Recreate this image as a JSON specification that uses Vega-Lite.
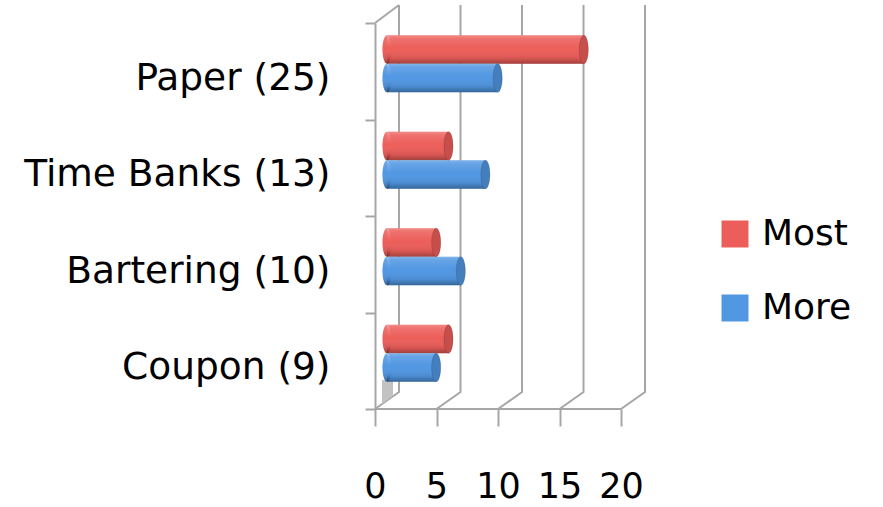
{
  "$schema": "https://vega.github.io/schema/vega-lite/v6.json",
  "width": 270,
  "height": 404,
  "autosize": "none",
  "padding": {"left": 375, "top": 5, "right": 238, "bottom": 98},
  "background": "white",
  "config": {"view": {"stroke": null}, "font": "DejaVu Sans"},
  "datasets": {
    "responses": [
      {"option": "Paper (25)", "series": "Most", "count": 16},
      {"option": "Paper (25)", "series": "More", "count": 9},
      {"option": "Time Banks (13)", "series": "Most", "count": 5},
      {"option": "Time Banks (13)", "series": "More", "count": 8},
      {"option": "Bartering (10)", "series": "Most", "count": 4},
      {"option": "Bartering (10)", "series": "More", "count": 6},
      {"option": "Coupon (9)", "series": "Most", "count": 5},
      {"option": "Coupon (9)", "series": "More", "count": 4}
    ],
    "gridSteps": [{"v": 0}, {"v": 5}, {"v": 10}, {"v": 15}, {"v": 20}]
  },
  "layer": [
    {
      "data": {"name": "gridSteps"},
      "mark": {"type": "point", "shape": "M0,0L24,-17L24,-404", "size": 4, "filled": false, "stroke": "#a6a6a6", "strokeWidth": 2, "opacity": 1},
      "encoding": {
        "x": {
          "field": "v", "type": "quantitative",
          "scale": {"domain": [0, 21.95], "nice": false, "zero": true},
          "axis": {
            "title": null, "values": [0, 5, 10, 15, 20], "grid": false, "domain": false,
            "tickColor": "#a6a6a6", "tickWidth": 2, "tickSize": 17,
            "labelFont": "DejaVu Sans", "labelFontSize": 35, "labelColor": "#000",
            "labelBaseline": "alphabetic", "labelPadding": 71, "labelFlush": false, "labelOverlap": false
          }
        },
        "y": {"value": "height"}
      }
    },
    {
      "data": {"name": "gridSteps"},
      "transform": [{"filter": "datum.v == 0"}],
      "mark": {"type": "point", "shape": "M7,-29H18V-13L7,-5Z", "size": 4, "filled": true, "fill": "#c2c2c2", "strokeWidth": 0, "opacity": 1},
      "encoding": {"x": {"field": "v", "type": "quantitative"}, "y": {"value": "height"}}
    },
    {
      "data": {"name": "gridSteps"},
      "transform": [{"filter": "datum.v == 0"}],
      "mark": {"type": "point", "shape": "M0,-386L24,-404", "size": 4, "filled": false, "stroke": "#a6a6a6", "strokeWidth": 2, "opacity": 1},
      "encoding": {"x": {"field": "v", "type": "quantitative"}, "y": {"value": "height"}}
    },
    {
      "data": {"name": "gridSteps"},
      "transform": [{"filter": "datum.v == 0"}],
      "mark": {"type": "rule", "stroke": "#a6a6a6", "strokeWidth": 2},
      "encoding": {"x": {"field": "v", "type": "quantitative"}, "x2": {"datum": 20}, "y": {"value": "height"}}
    },
    {
      "data": {"name": "responses"},
      "mark": {"type": "bar", "xOffset": 12, "x2Offset": 12},
      "encoding": {
        "y": {
          "field": "option", "type": "nominal",
          "sort": ["Paper (25)", "Time Banks (13)", "Bartering (10)", "Coupon (9)"],
          "scale": {"range": [18, 404], "paddingInner": 0, "paddingOuter": 0},
          "axis": {
            "title": null, "domainColor": "#a6a6a6", "domainWidth": 2,
            "tickColor": "#a6a6a6", "tickWidth": 2, "tickSize": 10, "tickBand": "extent",
            "labelFont": "DejaVu Sans", "labelFontSize": 37.5, "labelColor": "#000",
            "labelPadding": 35, "labelBaseline": "alphabetic", "labelOffset": 18, "labelLimit": 0
          }
        },
        "yOffset": {
          "field": "series", "type": "nominal", "sort": ["Most", "More"],
          "scale": {"range": [12.25, 69.25], "paddingInner": 0, "paddingOuter": 0}
        },
        "x": {"field": "count", "type": "quantitative"},
        "x2": {"datum": 0},
        "color": {
          "field": "series", "type": "nominal", "sort": ["Most", "More"],
          "scale": {"domain": ["Most", "More"], "range": ["#EC5E5A", "#5197E2"]},
          "legend": {
            "title": null, "orient": "none", "legendX": 342, "legendY": 211, "padding": 0,
            "symbolType": "square", "symbolSize": 729, "symbolStrokeWidth": 0, "symbolOpacity": 1,
            "labelFont": "DejaVu Sans", "labelFontSize": 36, "labelColor": "#000",
            "labelOffset": 9, "rowPadding": 38
          }
        }
      }
    },
    {
      "data": {"name": "responses"},
      "mark": {"type": "point", "shape": "M0,-1A0.32,1,0,1,1,0,1A0.32,1,0,1,1,0,-1Z", "size": 812.25, "filled": true, "opacity": 1, "strokeWidth": 0, "xOffset": 12},
      "encoding": {
        "y": {"field": "option", "type": "nominal", "sort": ["Paper (25)", "Time Banks (13)", "Bartering (10)", "Coupon (9)"]},
        "yOffset": {"field": "series", "type": "nominal", "sort": ["Most", "More"]},
        "x": {"datum": 0, "type": "quantitative"},
        "color": {"field": "series", "type": "nominal", "sort": ["Most", "More"]}
      }
    },
    {
      "data": {"name": "responses"},
      "mark": {
        "type": "bar", "xOffset": 12, "x2Offset": 12,
        "fill": {"gradient": "linear", "x1": 0, "y1": 0, "x2": 0, "y2": 1, "stops": [
          {"offset": 0, "color": "rgba(255,255,255,0.28)"},
          {"offset": 0.12, "color": "rgba(255,255,255,0.12)"},
          {"offset": 0.45, "color": "rgba(255,255,255,0)"},
          {"offset": 0.8, "color": "rgba(0,0,0,0.08)"},
          {"offset": 1, "color": "rgba(0,0,0,0.32)"}
        ]}
      },
      "encoding": {
        "y": {"field": "option", "type": "nominal", "sort": ["Paper (25)", "Time Banks (13)", "Bartering (10)", "Coupon (9)"]},
        "yOffset": {"field": "series", "type": "nominal", "sort": ["Most", "More"]},
        "x": {"field": "count", "type": "quantitative"},
        "x2": {"datum": 0}
      }
    },
    {
      "data": {"name": "responses"},
      "mark": {
        "type": "point", "shape": "M0,-1A0.32,1,0,1,1,0,1A0.32,1,0,1,1,0,-1Z", "size": 812.25, "filled": true, "opacity": 1, "strokeWidth": 0, "xOffset": 12,
        "fill": {"gradient": "linear", "x1": 0, "y1": 0, "x2": 0, "y2": 1, "stops": [
          {"offset": 0, "color": "rgba(255,255,255,0.28)"},
          {"offset": 0.12, "color": "rgba(255,255,255,0.12)"},
          {"offset": 0.45, "color": "rgba(255,255,255,0)"},
          {"offset": 0.8, "color": "rgba(0,0,0,0.08)"},
          {"offset": 1, "color": "rgba(0,0,0,0.32)"}
        ]}
      },
      "encoding": {
        "y": {"field": "option", "type": "nominal", "sort": ["Paper (25)", "Time Banks (13)", "Bartering (10)", "Coupon (9)"]},
        "yOffset": {"field": "series", "type": "nominal", "sort": ["Most", "More"]},
        "x": {"datum": 0, "type": "quantitative"}
      }
    },
    {
      "data": {"name": "responses"},
      "mark": {"type": "point", "shape": "M0,-1A0.32,1,0,1,1,0,1A0.32,1,0,1,1,0,-1Z", "size": 812.25, "filled": true, "opacity": 1, "strokeWidth": 0, "xOffset": 12},
      "encoding": {
        "y": {"field": "option", "type": "nominal", "sort": ["Paper (25)", "Time Banks (13)", "Bartering (10)", "Coupon (9)"]},
        "yOffset": {"field": "series", "type": "nominal", "sort": ["Most", "More"]},
        "x": {"field": "count", "type": "quantitative"},
        "color": {"field": "series", "type": "nominal", "sort": ["Most", "More"]}
      }
    },
    {
      "data": {"name": "responses"},
      "mark": {"type": "point", "shape": "M0,-1A0.32,1,0,1,1,0,1A0.32,1,0,1,1,0,-1Z", "size": 812.25, "filled": true, "opacity": 1, "fill": "rgba(0,0,0,0.16)", "stroke": "rgba(0,0,0,0.12)", "strokeWidth": 1, "xOffset": 12},
      "encoding": {
        "y": {"field": "option", "type": "nominal", "sort": ["Paper (25)", "Time Banks (13)", "Bartering (10)", "Coupon (9)"]},
        "yOffset": {"field": "series", "type": "nominal", "sort": ["Most", "More"]},
        "x": {"field": "count", "type": "quantitative"}
      }
    }
  ]
}
